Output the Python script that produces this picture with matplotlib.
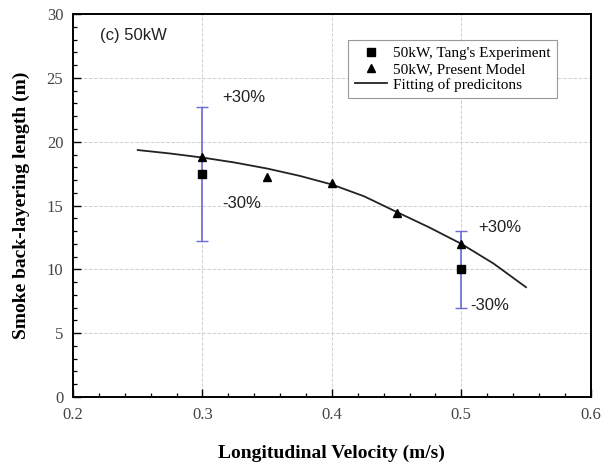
import matplotlib
matplotlib.use('Agg')
import matplotlib.pyplot as plt
from matplotlib.ticker import MultipleLocator

plt.rcParams['font.family'] = ['Liberation Serif', 'DejaVu Serif']
plt.rcParams['xtick.direction'] = 'in'
plt.rcParams['ytick.direction'] = 'in'

# data
vel_exp = [0.3, 0.5]
len_exp = [17.5, 10.0]
vel_model = [0.3, 0.35, 0.4, 0.45, 0.5]
len_model = [18.8, 17.2, 16.8, 14.4, 12.0]
vel_fit = [0.25, 0.275, 0.3, 0.325, 0.35, 0.375, 0.4, 0.425, 0.45, 0.475, 0.5, 0.525, 0.55]
len_fit = [19.35, 19.08, 18.76, 18.37, 17.9, 17.33, 16.65, 15.72, 14.5, 13.3, 12.0, 10.45, 8.6]
err_pct = 0.30

fig = plt.figure(figsize=(6.04, 4.72), dpi=100)
ax = fig.add_axes([0.121, 0.159, 0.857, 0.811])

# +-30% bars around the experiment
err = [v * err_pct for v in len_exp]
ax.errorbar(vel_exp, len_exp, yerr=err, fmt='none', ecolor='#6b6bd6',
            elinewidth=1.2, capsize=4, capthick=1.0, zorder=2)
ax.plot(vel_exp, len_exp, 's', color='black', ms=6, zorder=4,
        label="50kW, Tang's Experiment")
ax.plot(vel_model, len_model, '^', color='black', ms=6, zorder=4,
        label='50kW, Present Model')
ax.plot(vel_fit, len_fit, '-', color='#222222', lw=1.3, zorder=3,
        label='Fitting of predicitons')

ax.set_xlim(0.2, 0.6)
ax.set_ylim(0, 30)
ax.xaxis.set_major_locator(MultipleLocator(0.1))
ax.xaxis.set_minor_locator(MultipleLocator(0.02))
ax.yaxis.set_major_locator(MultipleLocator(5))
ax.yaxis.set_minor_locator(MultipleLocator(1))
ax.tick_params(which='major', length=6, width=1.0, labelsize=12,
               labelcolor='#444444', top=False, right=False, pad=7)
ax.tick_params(which='minor', length=3, width=0.9, top=False, right=False)
ax.grid(True, which='major', color='#d0d0d0', ls='--', lw=0.7, zorder=0)
for s in ax.spines.values():
    s.set_linewidth(1.4)

ax.set_xlabel('Longitudinal Velocity (m/s)', fontsize=14, fontweight='bold', labelpad=16)
ax.set_ylabel('Smoke back-layering length (m)', fontsize=14, fontweight='bold', labelpad=12)

sans = ['Liberation Sans', 'DejaVu Sans']
ax.text(0.221, 28.3, '(c) 50kW', family=sans, fontsize=12, va='center', color='#222222')
ax.text(0.315, 23.5, '+30%', family=sans, fontsize=12, va='center', color='#222222')
ax.text(0.315, 15.2, '-30%', family=sans, fontsize=12, va='center', color='#222222')
ax.text(0.513, 13.3, '+30%', family=sans, fontsize=12, va='center', color='#222222')
ax.text(0.507, 7.2, '-30%', family=sans, fontsize=12, va='center', color='#222222')

leg = ax.legend(loc='upper left', bbox_to_anchor=(0.531, 0.933), fontsize=11,
                fancybox=False, edgecolor='#999999', framealpha=1,
                handlelength=2.1, handletextpad=0.4, borderpad=0.45,
                labelspacing=0.12, borderaxespad=0)
leg.get_frame().set_linewidth(0.8)

plt.savefig('out.png', dpi=100)
